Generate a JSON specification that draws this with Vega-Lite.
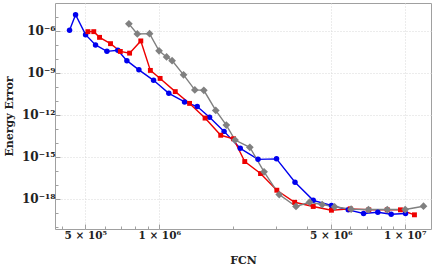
{
  "$schema": "https://vega.github.io/schema/vega-lite/v6.json",
  "width": 376,
  "height": 226,
  "autosize": {"type": "none"},
  "padding": {"left": 55, "top": 3, "right": 5, "bottom": 44},
  "background": "white",
  "config": {
    "view": {"stroke": "#a0a0a0", "strokeWidth": 1},
    "font": "DejaVu Serif"
  },
  "data": {"values": [
    {"s": "a", "fcn": 431000, "err": 1.05e-6},
    {"s": "a", "fcn": 456000, "err": 1.38e-5},
    {"s": "a", "fcn": 501000, "err": 5.19e-7},
    {"s": "a", "fcn": 550000, "err": 9.57e-8},
    {"s": "a", "fcn": 612000, "err": 3.35e-8},
    {"s": "a", "fcn": 678000, "err": 3.94e-8},
    {"s": "a", "fcn": 738000, "err": 7.27e-9},
    {"s": "a", "fcn": 826000, "err": 1.61e-9},
    {"s": "a", "fcn": 948000, "err": 2.87e-10},
    {"s": "a", "fcn": 1094000, "err": 3.40e-11},
    {"s": "a", "fcn": 1268000, "err": 8.28e-12},
    {"s": "a", "fcn": 1428000, "err": 3.83e-12},
    {"s": "a", "fcn": 1603000, "err": 6.6e-13},
    {"s": "a", "fcn": 1837000, "err": 6.53e-14},
    {"s": "a", "fcn": 2138000, "err": 4.02e-15},
    {"s": "a", "fcn": 2526000, "err": 6.6e-16},
    {"s": "a", "fcn": 3005000, "err": 7.16e-16},
    {"s": "a", "fcn": 3574000, "err": 1.55e-17},
    {"s": "a", "fcn": 4240000, "err": 7.9e-19},
    {"s": "a", "fcn": 5030000, "err": 3.37e-19},
    {"s": "a", "fcn": 5890000, "err": 1.66e-19},
    {"s": "a", "fcn": 6800000, "err": 9.1e-20},
    {"s": "a", "fcn": 7770000, "err": 1.12e-19},
    {"s": "a", "fcn": 8810000, "err": 8.1e-20},
    {"s": "a", "fcn": 10080000, "err": 9.1e-20},
    {"s": "b", "fcn": 512000, "err": 8.5e-7},
    {"s": "b", "fcn": 541000, "err": 8.5e-7},
    {"s": "b", "fcn": 571000, "err": 3.33e-7},
    {"s": "b", "fcn": 633000, "err": 1.18e-7},
    {"s": "b", "fcn": 694000, "err": 3.29e-8},
    {"s": "b", "fcn": 757000, "err": 2.49e-8},
    {"s": "b", "fcn": 841000, "err": 1.85e-7},
    {"s": "b", "fcn": 920000, "err": 1.46e-9},
    {"s": "b", "fcn": 1008000, "err": 3.92e-10},
    {"s": "b", "fcn": 1162000, "err": 4.49e-11},
    {"s": "b", "fcn": 1329000, "err": 6.47e-12},
    {"s": "b", "fcn": 1537000, "err": 5.8e-13},
    {"s": "b", "fcn": 1780000, "err": 3.45e-14},
    {"s": "b", "fcn": 2007000, "err": 1.94e-14},
    {"s": "b", "fcn": 2230000, "err": 4.6e-16},
    {"s": "b", "fcn": 2586000, "err": 6.4e-17},
    {"s": "b", "fcn": 3013000, "err": 4.15e-18},
    {"s": "b", "fcn": 3563000, "err": 5.7e-19},
    {"s": "b", "fcn": 4240000, "err": 2.87e-19},
    {"s": "b", "fcn": 5030000, "err": 1.55e-19},
    {"s": "b", "fcn": 6000000, "err": 1.95e-19},
    {"s": "b", "fcn": 7140000, "err": 1.66e-19},
    {"s": "b", "fcn": 8490000, "err": 1.66e-19},
    {"s": "b", "fcn": 9610000, "err": 1.66e-19},
    {"s": "b", "fcn": 10960000, "err": 7.3e-20},
    {"s": "c", "fcn": 752000, "err": 3.05e-6},
    {"s": "c", "fcn": 814000, "err": 5.82e-7},
    {"s": "c", "fcn": 913000, "err": 6.11e-7},
    {"s": "c", "fcn": 998000, "err": 3.63e-8},
    {"s": "c", "fcn": 1071000, "err": 1.33e-8},
    {"s": "c", "fcn": 1128000, "err": 7.27e-9},
    {"s": "c", "fcn": 1256000, "err": 7.08e-10},
    {"s": "c", "fcn": 1396000, "err": 5.93e-11},
    {"s": "c", "fcn": 1519000, "err": 5.56e-11},
    {"s": "c", "fcn": 1699000, "err": 2.05e-12},
    {"s": "c", "fcn": 1876000, "err": 1.84e-13},
    {"s": "c", "fcn": 2036000, "err": 1.57e-14},
    {"s": "c", "fcn": 2339000, "err": 4.81e-15},
    {"s": "c", "fcn": 2673000, "err": 8.5e-17},
    {"s": "c", "fcn": 3082000, "err": 2.04e-18},
    {"s": "c", "fcn": 3607000, "err": 2.87e-19},
    {"s": "c", "fcn": 4095000, "err": 5.76e-19},
    {"s": "c", "fcn": 4610000, "err": 3.96e-19},
    {"s": "c", "fcn": 5180000, "err": 2.72e-19},
    {"s": "c", "fcn": 6050000, "err": 1.83e-19},
    {"s": "c", "fcn": 7120000, "err": 1.74e-19},
    {"s": "c", "fcn": 8490000, "err": 1.74e-19},
    {"s": "c", "fcn": 10050000, "err": 1.74e-19},
    {"s": "c", "fcn": 11930000, "err": 3.0e-19}
  ]},
  "encoding": {
    "x": {
      "field": "fcn", "type": "quantitative",
      "scale": {"type": "log", "domain": [376000, 12800000], "nice": false},
      "axis": {
        "title": "FCN",
        "titleFont": "DejaVu Serif", "titleFontSize": 11, "titleFontWeight": "bold", "titleColor": "#222",
        "titlePadding": 14,
        "values": [400000, 500000, 600000, 700000, 800000, 900000, 1000000, 2000000, 3000000, 4000000, 5000000, 6000000, 7000000, 8000000, 9000000, 10000000],
        "labelExpr": "datum.value == 500000 ? '5 × 10⁵' : datum.value == 1000000 ? '1 × 10⁶' : datum.value == 5000000 ? '5 × 10⁶' : datum.value == 10000000 ? '1 × 10⁷' : ''",
        "labelFont": "DejaVu Serif", "labelFontSize": 10.5, "labelFontWeight": "bold", "labelColor": "#222",
        "labelPadding": 6,
        "labelFlush": false,
        "domain": false,
        "tickColor": "#a0a0a0",
        "tickSize": {"condition": {"test": "datum.value == 500000 || datum.value == 1000000 || datum.value == 5000000 || datum.value == 10000000", "value": -5}, "value": -3},
        "grid": true,
        "gridColor": "#d8d8d8",
        "gridDash": [1, 2],
        "gridOpacity": {"condition": {"test": "datum.value == 500000 || datum.value == 1000000 || datum.value == 5000000 || datum.value == 10000000", "value": 1}, "value": 0}
      }
    },
    "y": {
      "field": "err", "type": "quantitative",
      "scale": {"type": "log", "domain": [7.1e-21, 9.4e-5], "nice": false},
      "axis": {
        "title": "Energy Error",
        "titleFont": "DejaVu Serif", "titleFontSize": 11, "titleFontWeight": "bold", "titleColor": "#222",
        "titlePadding": 7,
        "values": [1e-20, 1e-19, 1e-18, 1e-17, 1e-16, 1e-15, 1e-14, 1e-13, 1e-12, 1e-11, 1e-10, 1e-9, 1e-8, 1e-7, 1e-6, 1e-5],
        "labelExpr": "round(log(datum.value)/LN10) == -6 ? '10⁻⁶' : round(log(datum.value)/LN10) == -9 ? '10⁻⁹' : round(log(datum.value)/LN10) == -12 ? '10⁻¹²' : round(log(datum.value)/LN10) == -15 ? '10⁻¹⁵' : round(log(datum.value)/LN10) == -18 ? '10⁻¹⁸' : ''",
        "labelFont": "DejaVu Serif", "labelFontSize": 12, "labelFontWeight": "bold", "labelColor": "#222",
        "labelPadding": 5,
        "domain": false,
        "tickColor": "#a0a0a0",
        "tickSize": {"condition": {"test": "round(log(datum.value)/LN10) % 3 == 0", "value": -5}, "value": -3},
        "grid": true,
        "gridColor": "#d8d8d8",
        "gridDash": [1, 2],
        "gridOpacity": {"condition": {"test": "round(log(datum.value)/LN10) % 3 == 0", "value": 1}, "value": 0}
      }
    },
    "color": {"field": "s", "type": "nominal", "scale": {"domain": ["a", "b", "c"], "range": ["#0000ee", "#ee0000", "#808080"]}, "legend": null}
  },
  "layer": [
    {"mark": {"type": "line", "strokeWidth": 1.4}},
    {
      "mark": {"type": "point", "filled": true, "opacity": 1},
      "encoding": {
        "shape": {"field": "s", "type": "nominal", "scale": {"domain": ["a", "b", "c"], "range": ["circle", "square", "diamond"]}, "legend": null},
        "size": {"field": "s", "type": "nominal", "scale": {"type": "ordinal", "domain": ["a", "b", "c"], "range": [30, 24, 60]}, "legend": null}
      }
    }
  ]
}
